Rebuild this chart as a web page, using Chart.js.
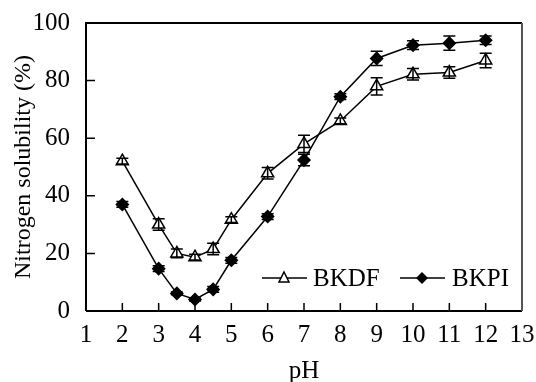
<!DOCTYPE html>
<html>
<head>
<meta charset="utf-8">
<script src="https://cdn.jsdelivr.net/npm/chart.js@4"></script>
<style>
  html, body { margin: 0; padding: 0; background: #fff; }
  #wrap { width: 536px; height: 382px; }
</style>
</head>
<body>
<div id="wrap"><canvas id="phChart" width="536" height="382"></canvas></div>
<script>
// values
const phValues = [2, 3, 3.5, 4, 4.5, 5, 6, 7, 8, 9, 10, 11, 12];
const bkdf = [52, 30, 20, 18.7, 21.5, 31.7, 47.8, 58, 66, 78, 82.2, 82.8, 87];
const bkdfErr = [1, 2, 1.5, 1, 2, 1, 2, 3, 1, 3, 2, 2, 2.5];
const bkpi = [37, 14.7, 6.1, 4, 7.5, 17.6, 32.8, 52.4, 74.4, 87.7, 92.3, 93, 94];
const bkpiErr = [1, 1, 0.5, 0.5, 1, 1, 1, 2, 1, 2.5, 1.5, 2.5, 1.5];
const xTicks = [1, 2, 3, 4, 5, 6, 7, 8, 9, 10, 11, 12, 13];
const yTicks = [0, 20, 40, 60, 80, 100];

const serif = '"Liberation Serif", "DejaVu Serif", serif';

const toPoints = (ys) => phValues.map((x, i) => ({ x: x, y: ys[i] }));

// error bars, inward ticks, frame and legend
const extras = {
  id: 'extras',
  afterDatasetsDraw(chart) {
    const { ctx, chartArea: a, scales: { x, y } } = chart;
    ctx.save();
    ctx.strokeStyle = '#000';
    ctx.lineWidth = 1.5;
    [[bkdf, bkdfErr], [bkpi, bkpiErr]].forEach(([vals, errs]) => {
      vals.forEach((v, i) => {
        const px = x.getPixelForValue(phValues[i]);
        const top = y.getPixelForValue(v + errs[i]);
        const bot = y.getPixelForValue(v - errs[i]);
        ctx.beginPath();
        ctx.moveTo(px, top); ctx.lineTo(px, bot);
        ctx.moveTo(px - 6, top); ctx.lineTo(px + 6, top);
        ctx.moveTo(px - 6, bot); ctx.lineTo(px + 6, bot);
        ctx.stroke();
      });
    });
    // inward ticks
    ctx.beginPath();
    xTicks.forEach(t => {
      const px = x.getPixelForValue(t);
      ctx.moveTo(px, a.bottom); ctx.lineTo(px, a.bottom - 8);
    });
    yTicks.forEach(t => {
      const py = y.getPixelForValue(t);
      ctx.moveTo(a.left, py); ctx.lineTo(a.left + 9, py);
    });
    ctx.stroke();
    // frame
    ctx.lineWidth = 2;
    ctx.beginPath();
    ctx.moveTo(a.left, a.bottom); ctx.lineTo(a.left, a.top); ctx.lineTo(a.right, a.top);
    ctx.moveTo(a.left, a.bottom); ctx.lineTo(a.right, a.bottom);
    ctx.stroke();
    ctx.strokeStyle = '#555';
    ctx.beginPath();
    ctx.moveTo(a.right, a.top); ctx.lineTo(a.right, a.bottom);
    ctx.stroke();

    // legend
    const ly = 278;
    ctx.strokeStyle = '#000';
    ctx.lineWidth = 1.5;
    ctx.beginPath();
    ctx.moveTo(262, ly); ctx.lineTo(307, ly);
    ctx.moveTo(400, ly); ctx.lineTo(445, ly);
    ctx.stroke();
    ctx.fillStyle = '#fff';
    ctx.beginPath();
    ctx.moveTo(284, ly - 6); ctx.lineTo(289, ly + 4); ctx.lineTo(279, ly + 4); ctx.closePath();
    ctx.fill(); ctx.stroke();
    ctx.fillStyle = '#000';
    ctx.beginPath();
    ctx.moveTo(422, ly - 6); ctx.lineTo(428, ly); ctx.lineTo(422, ly + 6); ctx.lineTo(416, ly); ctx.closePath();
    ctx.fill();
    ctx.font = '25px ' + serif;
    ctx.textBaseline = 'middle';
    ctx.fillText('BKDF', 313, ly + 1);
    ctx.fillText('BKPI', 452, ly + 1);
    ctx.restore();
  }
};

new Chart(document.getElementById('phChart'), {
  type: 'line',
  data: {
    datasets: [
      {
        label: 'BKDF',
        data: toPoints(bkdf),
        borderColor: '#000',
        borderWidth: 1.5,
        pointStyle: 'triangle',
        pointRadius: 7,
        pointBackgroundColor: '#fff',
        pointBorderColor: '#000',
        pointBorderWidth: 1.5,
        tension: 0,
      },
      {
        label: 'BKPI',
        data: toPoints(bkpi),
        borderColor: '#000',
        borderWidth: 1.5,
        pointStyle: 'rectRot',
        pointRadius: 6,
        pointBackgroundColor: '#000',
        pointBorderColor: '#000',
        tension: 0,
      },
    ],
  },
  options: {
    responsive: false,
    animation: false,
    layout: { padding: { top: 21, right: 14, left: 0, bottom: 0 } },
    plugins: {
      legend: { display: false },
      tooltip: { enabled: false },
    },
    scales: {
      x: {
        type: 'linear',
        min: 1,
        max: 13,
        grid: { display: false },
        border: { display: false },
        afterFit: (s) => { s.height = 71; },
        ticks: {
          stepSize: 1,
          color: '#000',
          padding: 1,
          maxRotation: 0,
          font: { family: serif, size: 25 },
        },
        title: {
          display: true,
          text: 'pH',
          color: '#000',
          padding: { top: 0, bottom: -4 },
          font: { family: serif, size: 25 },
        },
      },
      y: {
        min: 0,
        max: 100,
        grid: { display: false },
        border: { display: false },
        afterFit: (s) => { s.width = 86; },
        ticks: {
          stepSize: 20,
          color: '#000',
          padding: 8,
          font: { family: serif, size: 25 },
        },
        title: {
          display: true,
          text: 'Nitrogen solubility (%)',
          color: '#000',
          padding: { top: 9, bottom: 0 },
          font: { family: serif, size: 24 },
        },
      },
    },
  },
  plugins: [extras],
});
</script>
</body>
</html>
